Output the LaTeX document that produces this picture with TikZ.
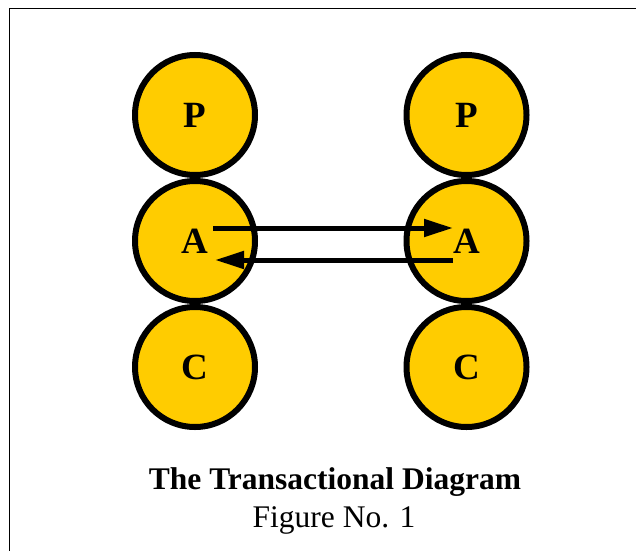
\documentclass[tikz,border=0pt]{standalone}
\usepackage{fontspec}
\setmainfont{Liberation Serif}
\usetikzlibrary{arrows.meta,positioning}
\definecolor{egoyellow}{RGB}{255,204,0}
\begin{document}
\begin{tikzpicture}[
        x=1pt, y=1pt,
        node distance=0pt,
        ego/.style={circle, draw=black, fill=egoyellow, line width=6pt, minimum size=120pt, inner sep=0pt, font=\fontsize{37}{40}\selectfont\bfseries},
        arrow/.style={-{Triangle[length=29pt,width=17pt]}, line width=5pt, black}
    ]
    \useasboundingbox (0,0) rectangle (636,550);
    \clip (0,0) rectangle (636,550);
    \draw[line width=1.5pt] (9.5,-10) |- (650,541.5);
    % left person
    \node[ego] (lp) at (195,435) {P};
    \node[ego, below=of lp] (la) {A};
    \node[ego, below=of la] (lc) {C};
    % right person
    \node[ego] (rp) at (466.5,435) {P};
    \node[ego, below=of rp] (ra) {A};
    \node[ego, below=of ra] (rc) {C};
    % transactions
    \draw[arrow] ([xshift=18pt,yshift=13pt]la.center) -- ([xshift=-13.5pt,yshift=13pt]ra.center);
    \draw[arrow] ([xshift=-13.5pt,yshift=-19pt]ra.center) -- ([xshift=20pt,yshift=-19pt]la.center);
    \node[anchor=base, font=\fontsize{31.5}{36}\selectfont\bfseries] (title) at (335,61) {The Transactional Diagram};
    \node[anchor=base, font=\fontsize{31.5}{36}\selectfont] (fig) at (334,23) {Figure No. 1};
\end{tikzpicture}
\end{document}
